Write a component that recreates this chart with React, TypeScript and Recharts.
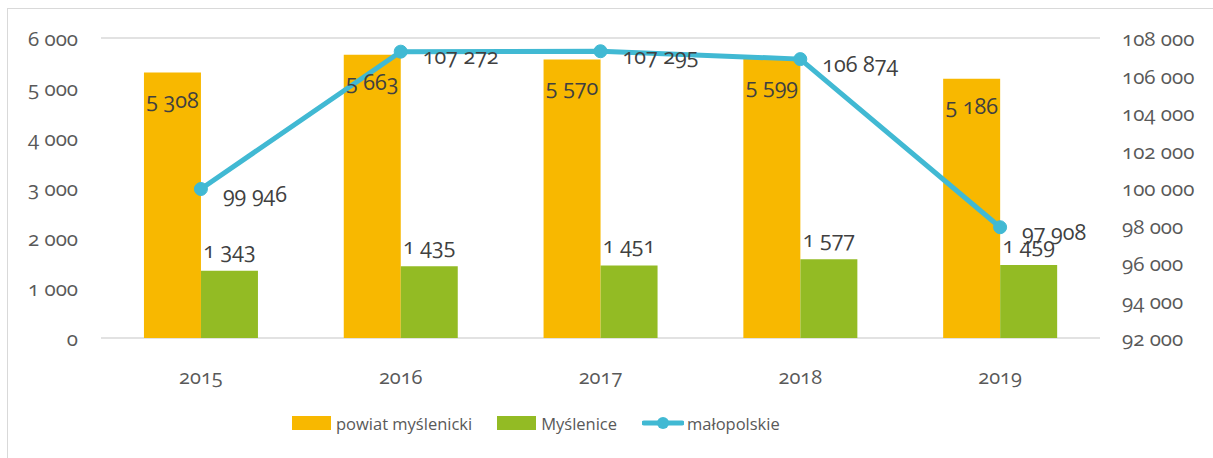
import React from 'react';
import { ComposedChart, Bar, Line, XAxis, YAxis, CartesianGrid, Legend, LabelList } from 'recharts';

const years = ['2015', '2016', '2017', '2018', '2019'];
const powiatMyslenicki = [5308, 5663, 5570, 5599, 5186];
const myslenice = [1343, 1435, 1451, 1577, 1459];
const malopolskie = [99946, 107272, 107295, 106874, 97908];
const leftTicks = [0, 1000, 2000, 3000, 4000, 5000, 6000];
const rightTicks = [92000, 94000, 96000, 98000, 100000, 102000, 104000, 106000, 108000];

const data = years.map((y, i) => ({
  year: y,
  powiat: powiatMyslenicki[i],
  mys: myslenice[i],
  mal: malopolskie[i],
}));

const ORANGE = '#F8B800';
const GREEN = '#93BB24';
const BLUE = '#41B9D3';
const TEXT = '#595959';
const FONT = '"Open Sans", sans-serif';

const fmt = (n: number) => String(n).replace(/\B(?=(\d{3})+(?!\d))/g, ' ');

const textStyle: React.CSSProperties = { fontFamily: FONT, fontVariantNumeric: 'oldstyle-nums' };

const XTick = (p: any) => (
  <text x={p.x} y={p.y + 38} textAnchor="middle" dominantBaseline="central" fill={TEXT} fontSize={20} style={textStyle}>
    {p.payload.value}
  </text>
);
const LTick = (p: any) => (
  <text x={p.x - 23} y={p.y} textAnchor="end" dominantBaseline="central" fill={TEXT} fontSize={20.5} style={textStyle}>
    {fmt(p.payload.value)}
  </text>
);
const RTick = (p: any) => (
  <text x={p.x + 22} y={p.y} textAnchor="start" dominantBaseline="central" fill={TEXT} fontSize={20.5} style={textStyle}>
    {fmt(p.payload.value)}
  </text>
);

const OrangeLabel = (p: any) => (
  <text x={p.x + p.width / 2} y={p.y + 27} textAnchor="middle" dominantBaseline="central" fill="#404040" fontSize={21.5} style={textStyle}>
    {fmt(p.value)}
  </text>
);
const GreenLabel = (p: any) => (
  <text x={p.x + p.width / 2} y={p.y - 21} textAnchor="middle" dominantBaseline="central" fill="#404040" fontSize={21.5} style={textStyle}>
    {fmt(p.value)}
  </text>
);
const LineLabel = (p: any) => (
  <text x={p.x + 22} y={p.y + 4} textAnchor="start" dominantBaseline="central" fill="#404040" fontSize={21.5} style={textStyle}>
    {fmt(p.value)}
  </text>
);

const LegendContent = () => (
  <div style={{ display: 'flex', justifyContent: 'flex-start', alignItems: 'center', fontFamily: FONT, fontSize: 16.5, color: TEXT, height: 24, paddingLeft: 284 }}>
    <div style={{ display: 'flex', alignItems: 'center', marginRight: 25 }}>
      <span style={{ display: 'inline-block', width: 39, height: 14, background: ORANGE, marginRight: 5 }} />
      <span>powiat myślenicki</span>
    </div>
    <div style={{ display: 'flex', alignItems: 'center', marginRight: 25 }}>
      <span style={{ display: 'inline-block', width: 39, height: 14, background: GREEN, marginRight: 5 }} />
      <span>Myślenice</span>
    </div>
    <div style={{ display: 'flex', alignItems: 'center' }}>
      <svg width={42} height={14} style={{ marginRight: 3 }}>
        <line x1={2} y1={7} x2={40} y2={7} stroke={BLUE} strokeWidth={5} strokeLinecap="round" />
        <circle cx={21} cy={7} r={6} fill={BLUE} />
      </svg>
      <span>małopolskie</span>
    </div>
  </div>
);

export default function App() {
  return (
    <div style={{ position: 'absolute', left: 7, top: 8, width: 1210, height: 460, border: '1px solid #D9D9D9', background: '#fff' }}>
      <ComposedChart
        width={1204}
        height={449}
        data={data}
        margin={{ top: 29, right: 19, left: 0, bottom: 40 }}
        barCategoryGap="21.5%"
        barGap={0}
      >
        <CartesianGrid vertical={false} stroke="#D9D9D9" strokeWidth={1.5} />
        <XAxis dataKey="year" axisLine={false} tickLine={false} tickSize={0} tickMargin={0} tick={<XTick />} height={56} />
        <YAxis yAxisId="l" orientation="left" domain={[0, 6000]} ticks={leftTicks} axisLine={false} tickLine={false} tickSize={0} tickMargin={0} width={93} tick={<LTick />} />
        <YAxis yAxisId="r" orientation="right" domain={[92000, 108000]} ticks={rightTicks} axisLine={false} tickLine={false} tickSize={0} tickMargin={0} width={93} tick={<RTick />} />
        <Legend verticalAlign="bottom" content={<LegendContent />} wrapperStyle={{ bottom: 23 }} />
        <Bar yAxisId="l" dataKey="powiat" fill={ORANGE} isAnimationActive={false}>
          <LabelList dataKey="powiat" content={<OrangeLabel />} />
        </Bar>
        <Bar yAxisId="l" dataKey="mys" fill={GREEN} isAnimationActive={false}>
          <LabelList dataKey="mys" content={<GreenLabel />} />
        </Bar>
        <Line yAxisId="r" dataKey="mal" stroke={BLUE} strokeWidth={5} dot={{ r: 6.5, fill: BLUE, stroke: BLUE, strokeWidth: 1 }} isAnimationActive={false}>
          <LabelList dataKey="mal" content={<LineLabel />} />
        </Line>
      </ComposedChart>
    </div>
  );
}
